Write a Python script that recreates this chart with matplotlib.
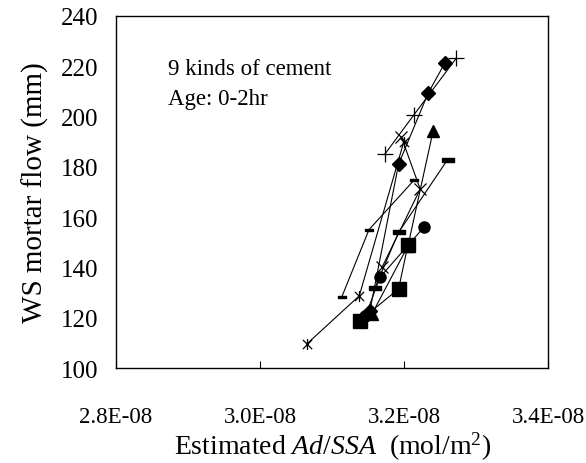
import matplotlib
matplotlib.use('Agg')
import matplotlib.pyplot as plt
from matplotlib.path import Path
from matplotlib.ticker import FuncFormatter, MultipleLocator

plt.rcParams['font.family'] = 'Liberation Serif'
plt.rcParams['mathtext.fontset'] = 'custom'
plt.rcParams['mathtext.rm'] = 'Liberation Serif'
plt.rcParams['mathtext.it'] = 'Liberation Serif:italic'

# Estimated Ad/SSA (x 1e-8 mol/m2) and WS mortar flow (mm), one list per cement
diamond_x = [3.152, 3.192, 3.233, 3.256]
diamond_y = [122.5, 181.0, 209.2, 221.1]
square_x = [3.138, 3.192, 3.205]
square_y = [118.8, 131.4, 148.9]
triangle_x = [3.155, 3.205, 3.240]
triangle_y = [121.4, 148.5, 194.3]
cross_x = [3.169, 3.222, 3.196]
cross_y = [140.0, 171.1, 191.7]
star_x = [3.0645, 3.1375, 3.199]
star_y = [109.5, 128.7, 189.7]
circle_x = [3.146, 3.166, 3.227]
circle_y = [120.5, 136.0, 155.9]
plus_x = [3.173, 3.213, 3.272]
plus_y = [185.0, 200.5, 223.1]
sdash_x = [3.113, 3.151, 3.214]
sdash_y = [128.1, 155.0, 174.8]
ldash_x = [3.159, 3.192, 3.260]
ldash_y = [131.7, 153.9, 182.8]

# custom markers
star_marker = Path([(-1, -1), (1, 1), (-1, 1), (1, -1), (0, -1.2), (0, 1.2)],
                   [Path.MOVETO, Path.LINETO, Path.MOVETO, Path.LINETO,
                    Path.MOVETO, Path.LINETO])
dash_marker = [(-1, -0.3), (1, -0.3), (1, 0.3), (-1, 0.3), (-1, -0.3)]

fig = plt.figure(figsize=(5.86, 4.64), dpi=100)
ax = fig.add_axes([0.198, 0.2047, 0.738, 0.7593])

lw = 0.8
series = [
    (diamond_x, diamond_y, dict(marker='D', ms=7)),
    (square_x, square_y, dict(marker='s', ms=9.5)),
    (triangle_x, triangle_y, dict(marker='^', ms=9)),
    (cross_x, cross_y, dict(marker='x', ms=8, mew=0.9)),
    (star_x, star_y, dict(marker=star_marker, ms=8, mew=0.9, mfc='none')),
    (circle_x, circle_y, dict(marker='o', ms=8)),
    (plus_x, plus_y, dict(marker='+', ms=11, mew=0.9)),
    (sdash_x, sdash_y, dict(marker=dash_marker, ms=6)),
    (ldash_x, ldash_y, dict(marker=dash_marker, ms=9)),
]
for xs, ys, kw in series:
    ax.plot([v * 1e-8 for v in xs], ys, color='black', lw=lw,
            mec='black', mfc=kw.pop('mfc', 'black'), **kw)

ax.set_xlim(2.8e-8, 3.4e-8)
ax.set_ylim(100, 240)
ax.xaxis.set_major_locator(MultipleLocator(0.2e-8))
ax.yaxis.set_major_locator(MultipleLocator(20))
ax.xaxis.set_major_formatter(FuncFormatter(lambda v, p: f'{v * 1e8:.1f}E-08'))
ax.tick_params(axis='x', direction='in', length=5, labelsize=16.5, pad=27)
ax.tick_params(axis='y', direction='out', length=0, labelsize=18, pad=13)
for s in ax.spines.values():
    s.set_linewidth(1.0)

ax.set_ylabel('WS mortar flow (mm)', fontsize=21, labelpad=8)
ax.set_xlabel(r'Estimated $\mathit{Ad/SSA}$  (mol/m$^2$)', fontsize=20, labelpad=2)

ax.text(0.12, 0.849, '9 kinds of cement', transform=ax.transAxes, fontsize=16.5,
        va='center')
ax.text(0.12, 0.766, 'Age: 0-2hr', transform=ax.transAxes, fontsize=16.5,
        va='center')

fig.savefig('out.png', dpi=100)
